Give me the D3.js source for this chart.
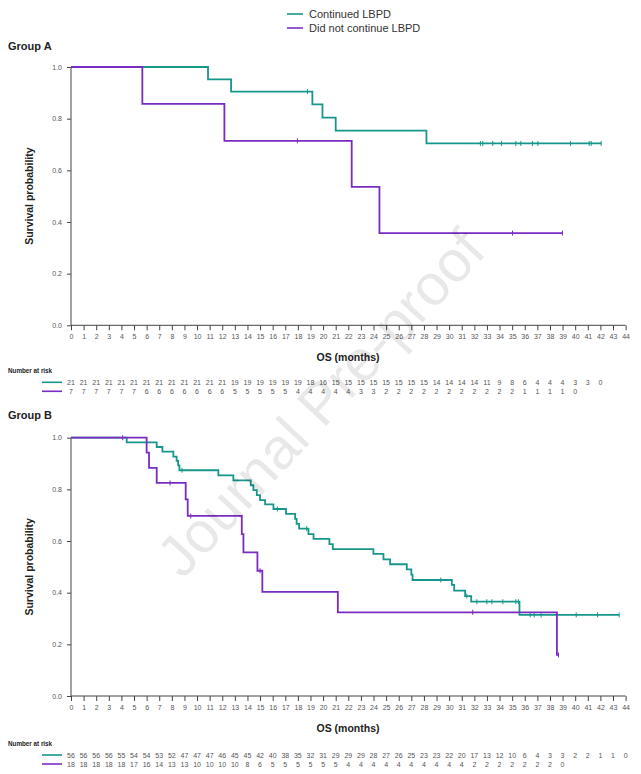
<!DOCTYPE html>
<html><head><meta charset="utf-8">
<script src="https://cdn.jsdelivr.net/npm/d3@7"></script>
<style>body{margin:0;background:#fff}svg{display:block}</style>
</head><body>
<script>
// ---------- data ----------
const seriesNames = ["Continued LBPD", "Did not continue LBPD"];
const seriesColors = ["#17968c", "#7a2cc0"];
const xTicks = [0,1,2,3,4,5,6,7,8,9,10,11,12,13,14,15,16,17,18,19,20,21,22,23,24,25,26,27,28,29,30,31,32,33,34,35,36,37,38,39,40,41,42,43,44];
const yTicks = [0.0,0.2,0.4,0.6,0.8,1.0];

// Group A
const aContTimes = [0, 10.87, 12.7, 19.15, 19.95, 21.0, 28.2, 42.06];
const aContSurv  = [1.0, 0.952, 0.905, 0.855, 0.804, 0.754, 0.704, 0.704];
const aContCens  = [18.76, 32.48, 32.67, 33.46, 34.15, 35.29, 35.69, 36.61, 37.04, 39.63, 41.11, 41.27, 42.06];
const aNotTimes  = [0, 5.66, 12.17, 22.27, 24.47, 38.99];
const aNotSurv   = [1.0, 0.857, 0.714, 0.536, 0.357, 0.357];
const aNotCens   = [17.96, 35.03, 38.99];
const riskAcont  = [21,21,21,21,21,21,21,21,21,21,21,21,21,19,19,19,19,19,19,18,16,15,15,15,15,15,15,15,15,14,14,14,14,11,9,8,6,4,4,4,3,3,0];
const riskAnot   = [7,7,7,7,7,7,6,6,6,6,6,6,6,5,5,5,5,5,4,4,4,4,4,3,3,2,2,2,2,2,2,2,2,2,2,2,1,1,1,1,0];

// Group B
const bContTimes = [0, 4.42, 6.8, 7.25, 8.12, 8.38, 8.5, 8.6, 11.69, 12.88, 14.26, 14.47, 14.74, 15.0, 15.4, 16.06, 17.06, 17.78, 17.9, 18.1, 18.84, 19.24, 20.5, 20.77, 23.99, 24.79, 25.32, 26.64, 27.0, 27.1, 30.21, 30.4, 31.27, 31.75, 35.58, 43.49];
const bContSurv  = [1.0, 0.982, 0.964, 0.946, 0.927, 0.910, 0.893, 0.874, 0.854, 0.835, 0.816, 0.797, 0.778, 0.758, 0.742, 0.724, 0.705, 0.686, 0.666, 0.648, 0.627, 0.608, 0.588, 0.569, 0.550, 0.529, 0.510, 0.490, 0.470, 0.449, 0.430, 0.408, 0.387, 0.365, 0.314, 0.314];
const bContCens  = [8.81, 16.37, 18.7, 29.34, 31.4, 32.2, 32.99, 33.39, 34.26, 35.29, 35.49, 36.43, 36.75, 37.3, 40.08, 41.77, 43.49];
const bNotTimes  = [0, 6.0, 6.19, 6.8, 9.1, 9.26, 13.55, 13.68, 14.79, 15.18, 21.17, 38.55, 38.68];
const bNotSurv   = [1.0, 0.942, 0.883, 0.825, 0.761, 0.697, 0.627, 0.556, 0.485, 0.403, 0.324, 0.159, 0.159];
const bNotCens   = [4.1, 7.86, 9.5, 15.0, 31.87, 38.68];
const riskBcont  = [56,56,56,56,55,54,54,53,52,47,47,47,46,45,45,42,40,38,35,32,31,29,29,29,28,27,26,25,23,23,22,20,17,13,12,10,6,4,3,3,2,2,1,1,0];
const riskBnot   = [18,18,18,18,18,17,16,14,13,13,10,10,10,10,8,6,5,5,5,5,5,5,4,4,4,4,4,4,4,4,4,4,2,2,2,2,2,2,2,0];

// ---------- drawing ----------
const W = 641, H = 774;
const FONT = "'Liberation Sans', Arial, Helvetica, sans-serif";
const svg = d3.select("body").append("svg").attr("width", W).attr("height", H)
  .style("font-family", FONT);

// legend
const legend = svg.append("g");
seriesNames.forEach((n, i) => {
  const y = 14 + i * 14;
  legend.append("line").attr("x1", 287).attr("x2", 303).attr("y1", y).attr("y2", y)
    .attr("stroke", seriesColors[i]).attr("stroke-width", 1.6);
  legend.append("text").attr("x", 309).attr("y", y + 4).attr("font-size", 11)
    .attr("fill", "#333").text(n);
});

const x = d3.scaleLinear().domain([0, 44]).range([71, 625.6]);

function panel(cfg) {
  const g = svg.append("g");
  const y = d3.scaleLinear().domain([0, 1]).range([cfg.y0, cfg.y1]);

  g.append("text").attr("x", 8).attr("y", cfg.titleY).attr("font-size", 11)
    .attr("font-weight", "bold").attr("fill", "#222").text(cfg.title);

  // axes
  const xAxis = d3.axisBottom(x).tickValues(xTicks).tickSize(5).tickPadding(4)
    .tickFormat(d3.format("d"));
  const gx = g.append("g").attr("transform", `translate(0,${cfg.y0})`).call(xAxis);
  const yAxis = d3.axisLeft(y).tickValues(yTicks).tickSize(4).tickPadding(5)
    .tickFormat(d3.format(".1f"));
  const gy = g.append("g").attr("transform", `translate(71,0)`).call(yAxis);
  [gx, gy].forEach(a => {
    a.select(".domain").attr("stroke", "#444").attr("stroke-width", 1);
    a.selectAll(".tick line").attr("stroke", "#444");
    a.selectAll(".tick text").attr("font-size", 7).attr("fill", "#555").style("font-family", FONT);
  });
  gx.select(".domain").attr("d", `M71,0H625.6`);
  gy.select(".domain").attr("d", `M0,${cfg.y0}V${cfg.y1}`);

  g.append("text").attr("transform", `translate(33,${(cfg.y0 + cfg.y1) / 2}) rotate(-90)`)
    .attr("text-anchor", "middle").attr("font-size", 10.5).attr("font-weight", "bold")
    .attr("fill", "#222").text("Survival probability");
  g.append("text").attr("x", 348).attr("y", cfg.y0 + 36).attr("text-anchor", "middle")
    .attr("font-size", 10.5).attr("font-weight", "bold").attr("fill", "#222").text("OS (months)");

  // curves
  const line = d3.line().x(d => x(d[0])).y(d => y(d[1])).curve(d3.curveStepAfter);
  cfg.series.forEach((s, i) => {
    const pts = s.times.map((t, k) => [t, s.surv[k]]);
    g.append("path").attr("d", line(pts)).attr("fill", "none")
      .attr("stroke", seriesColors[i]).attr("stroke-width", 1.8);
    const lvl = t => { let v = 1; s.times.forEach((tt, k) => { if (tt <= t) v = s.surv[k]; }); return v; };
    g.selectAll(null).data(s.cens).join("line")
      .attr("x1", d => x(d)).attr("x2", d => x(d))
      .attr("y1", d => y(lvl(d)) - 2.5).attr("y2", d => y(lvl(d)) + 2.5)
      .attr("stroke", seriesColors[i]).attr("stroke-width", 1);
  });

  // risk table
  const rt = cfg.y0 + cfg.riskOff;
  g.append("text").attr("x", 8).attr("y", rt).attr("font-size", 6.3).attr("font-weight", "bold")
    .attr("fill", "#222").text("Number at risk");
  cfg.risk.forEach((r, i) => {
    const ry = rt + 9 + i * 9;
    g.append("line").attr("x1", 42).attr("x2", 62).attr("y1", ry).attr("y2", ry)
      .attr("stroke", seriesColors[i]).attr("stroke-width", 1.6);
    g.selectAll(null).data(r).join("text")
      .attr("x", (d, k) => x(xTicks[k])).attr("y", ry + 2.5).attr("text-anchor", "middle")
      .attr("font-size", 7).attr("fill", "#555").text(d => d);
  });
}

panel({ title: "Group A", titleY: 50, y0: 325.3, y1: 67, riskOff: 48,
  series: [{ times: aContTimes, surv: aContSurv, cens: aContCens },
           { times: aNotTimes, surv: aNotSurv, cens: aNotCens }],
  risk: [riskAcont, riskAnot] });
panel({ title: "Group B", titleY: 419, y0: 696, y1: 437.7, riskOff: 50,
  series: [{ times: bContTimes, surv: bContSurv, cens: bContCens },
           { times: bNotTimes, surv: bNotSurv, cens: bNotCens }],
  risk: [riskBcont, riskBnot] });

// watermark
svg.append("text").attr("transform", "translate(324,406) rotate(-47)")
  .attr("text-anchor", "middle").attr("dominant-baseline", "middle")
  .attr("font-size", 58).attr("fill", "#000").attr("fill-opacity", 0.09)
  .text("Journal Pre-proof");
</script>
</body></html>
